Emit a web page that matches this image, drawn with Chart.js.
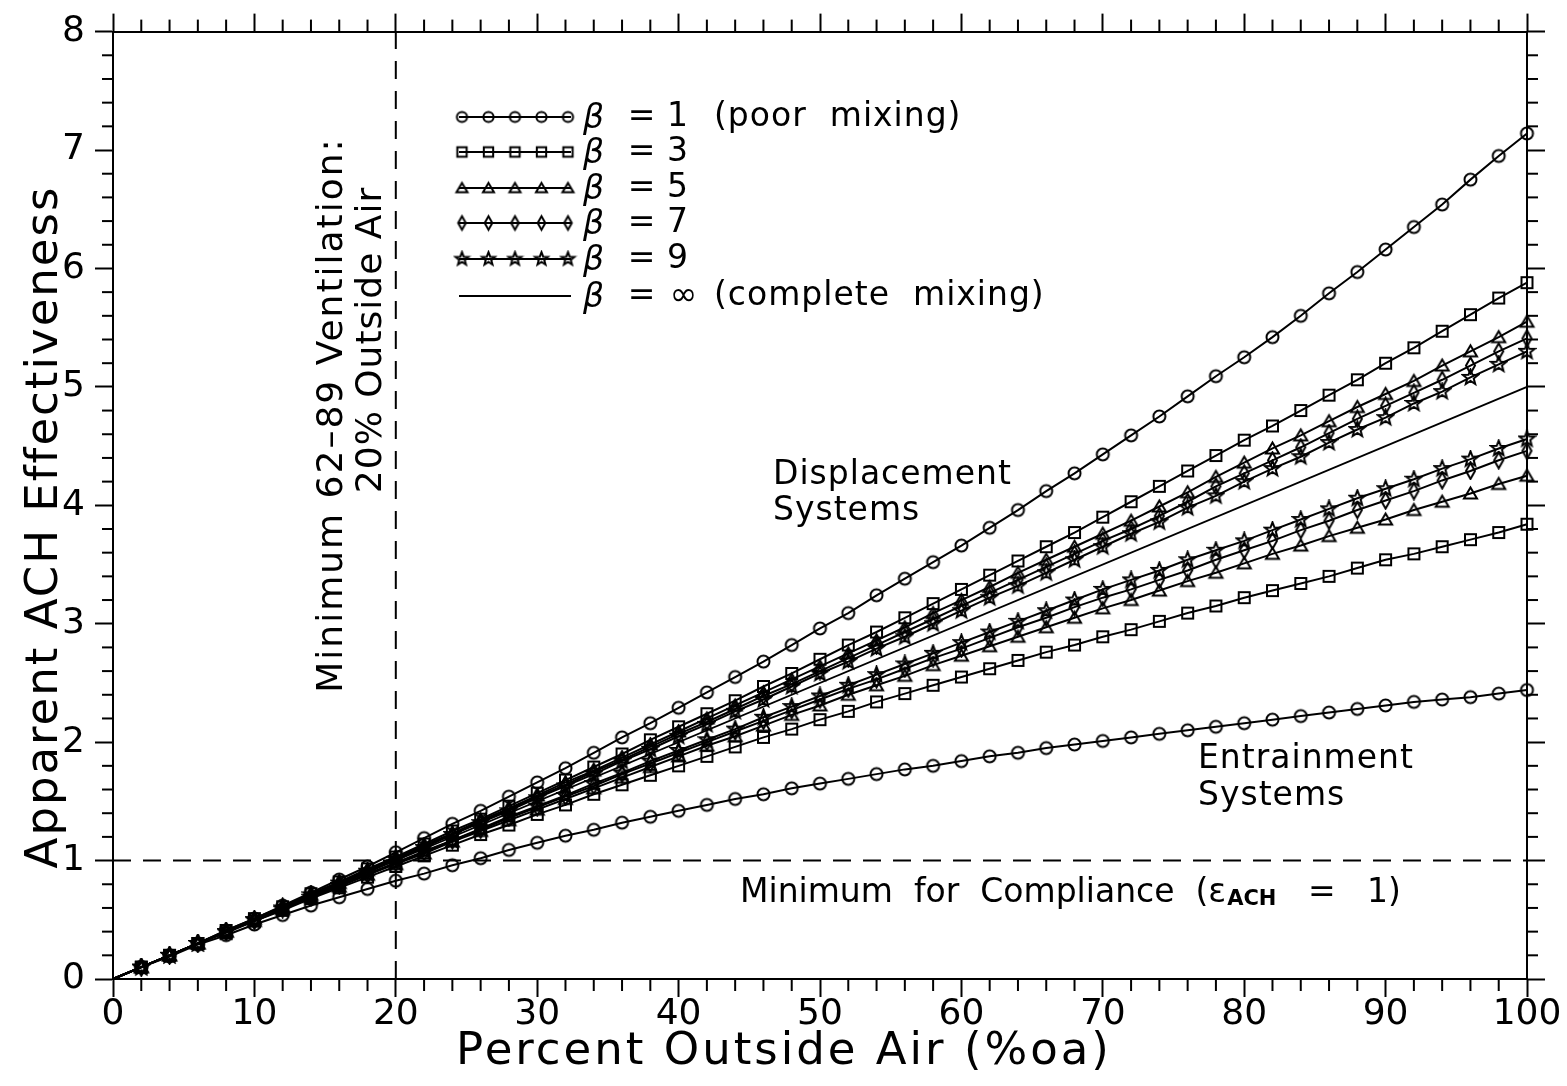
<!DOCTYPE html>
<html>
<head>
<meta charset="utf-8">
<script src="https://cdn.jsdelivr.net/npm/chart.js@4.4.1/dist/chart.umd.min.js"></script>
<style>
  html, body { margin: 0; padding: 0; background: #fff; }
  canvas { display: block; }
</style>
</head>
<body>
<canvas id="chart" width="1567" height="1086"></canvas>
<script>
// Percent outside air (x) and apparent ACH effectiveness (y) for each mixing factor
const pctOA = [0, 2, 4, 6, 8, 10, 12, 14, 16, 18, 20, 22, 24, 26, 28, 30, 32, 34, 36, 38, 40,
  42, 44, 46, 48, 50, 52, 54, 56, 58, 60, 62, 64, 66, 68, 70, 72, 74, 76, 78, 80,
  82, 84, 86, 88, 90, 92, 94, 96, 98, 100];

// Displacement systems
const dispBeta1 = [0, 0.10, 0.20, 0.30, 0.41, 0.51, 0.62, 0.73, 0.84, 0.95, 1.07,
  1.19, 1.31, 1.42, 1.54, 1.66, 1.78, 1.91, 2.04, 2.16, 2.29,
  2.42, 2.55, 2.68, 2.82, 2.96, 3.09, 3.24, 3.38, 3.52, 3.66,
  3.81, 3.96, 4.12, 4.27, 4.43, 4.59, 4.75, 4.92, 5.09, 5.25,
  5.42, 5.60, 5.79, 5.97, 6.16, 6.35, 6.54, 6.75, 6.95, 7.14];
const dispBeta3 = [0, 0.10, 0.20, 0.30, 0.41, 0.51, 0.61, 0.72, 0.82, 0.93, 1.03,
  1.14, 1.25, 1.35, 1.46, 1.57, 1.68, 1.79, 1.90, 2.02, 2.13,
  2.24, 2.35, 2.47, 2.58, 2.70, 2.82, 2.93, 3.05, 3.17, 3.29,
  3.41, 3.53, 3.65, 3.77, 3.90, 4.03, 4.16, 4.29, 4.42, 4.55,
  4.67, 4.80, 4.93, 5.06, 5.20, 5.33, 5.47, 5.61, 5.75, 5.88];
const dispBeta5 = [0, 0.10, 0.20, 0.30, 0.40, 0.51, 0.61, 0.71, 0.81, 0.92, 1.02,
  1.13, 1.23, 1.34, 1.44, 1.55, 1.66, 1.76, 1.87, 1.98, 2.09,
  2.20, 2.31, 2.42, 2.53, 2.64, 2.75, 2.86, 2.97, 3.09, 3.20,
  3.31, 3.43, 3.54, 3.65, 3.76, 3.87, 3.99, 4.11, 4.24, 4.36,
  4.48, 4.59, 4.71, 4.83, 4.94, 5.05, 5.18, 5.30, 5.42, 5.55];
const dispBeta7 = [0, 0.10, 0.20, 0.30, 0.40, 0.50, 0.61, 0.71, 0.81, 0.91, 1.02,
  1.12, 1.22, 1.33, 1.43, 1.54, 1.64, 1.75, 1.85, 1.96, 2.07,
  2.17, 2.28, 2.39, 2.49, 2.60, 2.71, 2.82, 2.93, 3.04, 3.15,
  3.26, 3.37, 3.48, 3.59, 3.70, 3.80, 3.91, 4.03, 4.16, 4.27,
  4.38, 4.49, 4.61, 4.73, 4.84, 4.95, 5.06, 5.18, 5.30, 5.41];
const dispBeta9 = [0, 0.10, 0.20, 0.30, 0.40, 0.50, 0.60, 0.71, 0.81, 0.91, 1.01,
  1.11, 1.22, 1.32, 1.42, 1.53, 1.63, 1.73, 1.84, 1.94, 2.05,
  2.15, 2.26, 2.36, 2.47, 2.58, 2.68, 2.79, 2.89, 3.00, 3.11,
  3.22, 3.32, 3.43, 3.54, 3.65, 3.76, 3.86, 3.98, 4.08, 4.20,
  4.31, 4.41, 4.53, 4.64, 4.74, 4.86, 4.96, 5.08, 5.19, 5.30];

// Complete mixing (beta = infinity)
const mixX = [0, 100];
const mixY = [0, 5.0];

// Entrainment systems
const entrBeta9 = [0, 0.10, 0.20, 0.30, 0.40, 0.50, 0.59, 0.69, 0.79, 0.89, 0.98,
  1.08, 1.17, 1.27, 1.37, 1.46, 1.55, 1.65, 1.74, 1.84, 1.93,
  2.02, 2.11, 2.21, 2.30, 2.39, 2.48, 2.57, 2.66, 2.75, 2.84,
  2.93, 3.02, 3.11, 3.20, 3.29, 3.37, 3.45, 3.54, 3.62, 3.70,
  3.79, 3.88, 3.97, 4.06, 4.14, 4.22, 4.31, 4.39, 4.48, 4.56];
const entrBeta7 = [0, 0.10, 0.20, 0.30, 0.40, 0.49, 0.59, 0.69, 0.79, 0.88, 0.98,
  1.07, 1.17, 1.26, 1.36, 1.45, 1.54, 1.63, 1.73, 1.82, 1.91,
  2.00, 2.09, 2.18, 2.27, 2.36, 2.45, 2.53, 2.62, 2.71, 2.79,
  2.88, 2.97, 3.05, 3.14, 3.22, 3.29, 3.37, 3.45, 3.54, 3.62,
  3.70, 3.79, 3.87, 3.96, 4.04, 4.12, 4.21, 4.29, 4.38, 4.46];
const entrBeta5 = [0, 0.10, 0.20, 0.30, 0.40, 0.49, 0.59, 0.69, 0.78, 0.88, 0.97,
  1.06, 1.16, 1.25, 1.34, 1.43, 1.52, 1.61, 1.70, 1.79, 1.88,
  1.97, 2.05, 2.14, 2.23, 2.31, 2.40, 2.48, 2.56, 2.65, 2.73,
  2.81, 2.89, 2.97, 3.05, 3.13, 3.20, 3.28, 3.36, 3.43, 3.51,
  3.59, 3.66, 3.74, 3.81, 3.88, 3.96, 4.03, 4.10, 4.18, 4.25];
const entrBeta3 = [0, 0.10, 0.20, 0.30, 0.39, 0.49, 0.58, 0.68, 0.77, 0.86, 0.95,
  1.04, 1.13, 1.22, 1.30, 1.39, 1.47, 1.56, 1.64, 1.72, 1.80,
  1.88, 1.96, 2.04, 2.11, 2.19, 2.26, 2.34, 2.41, 2.48, 2.55,
  2.62, 2.69, 2.76, 2.82, 2.89, 2.95, 3.02, 3.09, 3.15, 3.22,
  3.28, 3.34, 3.40, 3.47, 3.54, 3.59, 3.65, 3.71, 3.77, 3.84];
const entrBeta1 = [0, 0.10, 0.19, 0.29, 0.37, 0.46, 0.54, 0.62, 0.69, 0.76, 0.83,
  0.89, 0.96, 1.02, 1.09, 1.15, 1.21, 1.26, 1.32, 1.37, 1.42,
  1.47, 1.52, 1.56, 1.61, 1.65, 1.69, 1.73, 1.77, 1.80, 1.84,
  1.88, 1.91, 1.95, 1.98, 2.01, 2.04, 2.07, 2.10, 2.13, 2.16,
  2.19, 2.22, 2.25, 2.28, 2.31, 2.34, 2.36, 2.38, 2.41, 2.44];

// Reference lines
const minVentX = [20, 20];
const minVentY = [0, 8];
const complianceX = [0, 100];
const complianceY = [1, 1];

// Legend rows
const legendLabels = ['1', '3', '5', '7', '9', '\u221e'];
const legendNotes = ['(poor  mixing)', '', '', '', '', '(complete  mixing)'];

const FONT = '"DejaVu Sans", sans-serif';

// marker images (open shapes so the line shows through)
function makeMarker(kind, s) {
  const c = document.createElement('canvas');
  c.width = 19; c.height = 19;
  const g = c.getContext('2d');
  g.strokeStyle = '#000';
  g.lineWidth = 2;
  g.beginPath();
  const m = 9.5;
  if (kind === 'circle') {
    g.arc(m, m, 6 * s, 0, Math.PI * 2);
  } else if (kind === 'square') {
    g.rect(m - 5.5 * s, m - 5.5 * s, 11 * s, 11 * s);
  } else if (kind === 'triangle') {
    g.moveTo(m, m - 6 * s); g.lineTo(m + 6.5 * s, m + 5 * s); g.lineTo(m - 6.5 * s, m + 5 * s); g.closePath();
  } else if (kind === 'diamond') {
    g.moveTo(m, m - 8 * s); g.lineTo(m + 4.5 * s, m); g.lineTo(m, m + 8 * s); g.lineTo(m - 4.5 * s, m); g.closePath();
  } else if (kind === 'star') {
    for (let i = 0; i < 10; i++) {
      const r = (i % 2 === 0 ? 8 : 3.4) * s;
      const a = -Math.PI / 2 + i * Math.PI / 5;
      const px = m + r * Math.cos(a), py = m + r * Math.sin(a);
      if (i === 0) g.moveTo(px, py); else g.lineTo(px, py);
    }
    g.closePath();
  }
  g.stroke();
  return c;
}
const markers = {
  circle: makeMarker('circle', 1),
  square: makeMarker('square', 1),
  triangle: makeMarker('triangle', 1),
  diamond: makeMarker('diamond', 1),
  star: makeMarker('star', 1)
};
const legendMarkers = ['circle', 'square', 'triangle', 'diamond', 'star', null]
  .map(k => (k ? makeMarker(k, 0.85) : null));

function pairs(xs, ys) { return xs.map((v, i) => ({x: v, y: ys[i]})); }

function curve(values, marker) {
  return {
    data: pairs(pctOA, values),
    borderColor: '#000',
    borderWidth: 2,
    pointStyle: marker,
    pointRadius: (c) => (c.raw && c.raw.x === 0 ? 0 : 7),
    showLine: true,
    clip: false,
    tension: 0
  };
}
function refLine(xs, ys, width, dash) {
  return {
    data: pairs(xs, ys),
    borderColor: '#000',
    borderWidth: width,
    borderDash: dash || [],
    pointRadius: 0,
    showLine: true,
    clip: false
  };
}

const decorations = {
  id: 'decorations',
  afterDraw(chart) {
    const {ctx, chartArea: a, scales} = chart;
    const x = scales.x, y = scales.y;
    ctx.save();
    ctx.strokeStyle = '#000';
    ctx.fillStyle = '#000';
    ctx.lineWidth = 2;
    const seg = (x1, y1, x2, y2) => { ctx.beginPath(); ctx.moveTo(x1, y1); ctx.lineTo(x2, y2); ctx.stroke(); };
    const spacing = (v) => { if ('letterSpacing' in ctx) ctx.letterSpacing = v; };

    // minor ticks
    for (let v = 2; v < 100; v += 2) {
      if (v % 10 === 0) continue;
      const px = x.getPixelForValue(v);
      seg(px, a.bottom, px, a.bottom + 12);
      seg(px, a.top, px, a.top - 12);
    }
    for (let i = 1; i < 40; i++) {
      if (i % 5 === 0) continue;
      const py = y.getPixelForValue(i / 5);
      seg(a.left, py, a.left - 11, py);
      seg(a.right, py, a.right + 11, py);
    }

    // axis titles
    ctx.textBaseline = 'middle';
    ctx.textAlign = 'center';
    ctx.font = '45px ' + FONT;
    spacing('3px');
    ctx.fillText('Percent Outside Air (%oa)', 784, 1052);
    spacing('2px');
    ctx.save();
    ctx.translate(45, 527);
    ctx.rotate(-Math.PI / 2);
    ctx.fillText('Apparent ACH Effectiveness', 0, 0);
    ctx.restore();

    // rotated note by the 20% line
    ctx.font = '36px ' + FONT;
    spacing('2px');
    ctx.save();
    ctx.translate(333, 415);
    ctx.rotate(-Math.PI / 2);
    ctx.fillText('Minimum 62\u201389 Ventilation:', 0, 0);
    ctx.restore();
    spacing('1px');
    ctx.save();
    ctx.translate(372, 340);
    ctx.rotate(-Math.PI / 2);
    ctx.fillText('20% Outside Air', 0, 0);
    ctx.restore();

    // region labels
    spacing('1px');
    ctx.textAlign = 'left';
    ctx.font = '33px ' + FONT;
    ctx.fillText('Displacement', 773, 475);
    ctx.fillText('Systems', 773, 511);
    ctx.fillText('Entrainment', 1198, 759);
    ctx.fillText('Systems', 1198, 796);

    // compliance label with subscript
    spacing('0px');
    let cx = 740;
    const cy = 893;
    const part1 = 'Minimum  for  Compliance  (\u03b5';
    ctx.fillText(part1, cx, cy);
    cx += ctx.measureText(part1).width + 1;
    ctx.font = 'bold 21px ' + FONT;
    ctx.fillText('ACH', cx, cy + 7);
    cx += ctx.measureText('ACH').width;
    ctx.font = '33px ' + FONT;
    ctx.fillText('   =   1)', cx, cy);

    // legend
    const rowY = [117, 152, 188, 223, 259, 296];
    const sx0 = 462, sx1 = 568;
    for (let r = 0; r < rowY.length; r++) {
      const ry = rowY[r];
      ctx.lineWidth = 2;
      seg(sx0 - 3, ry, sx1 + 3, ry);
      const mk = legendMarkers[r];
      if (mk) {
        for (let k = 0; k < 5; k++) {
          const mx = sx0 + k * (sx1 - sx0) / 4;
          ctx.drawImage(mk, mx - mk.width / 2, ry - mk.height / 2);
        }
      }
      spacing('1px');
      ctx.font = 'italic 33px ' + FONT;
      ctx.textAlign = 'left';
      ctx.fillText('\u03b2', 583, ry + 2);
      ctx.font = '33px ' + FONT;
      ctx.textAlign = 'center';
      ctx.fillText('=', 642, ry);
      ctx.fillText(legendLabels[r], r === 5 ? 684 : 678, ry);
      ctx.textAlign = 'left';
      if (legendNotes[r]) ctx.fillText(legendNotes[r], 714, ry);
    }
    ctx.restore();
  }
};

const axisColor = '#000';
const tickFont = {family: FONT, size: 36};

new Chart(document.getElementById('chart'), {
  type: 'scatter',
  data: {
    datasets: [
      refLine(minVentX, minVentY, 2, [18, 12]),
      refLine(complianceX, complianceY, 2, [18, 12]),
      curve(dispBeta1, markers.circle),
      curve(dispBeta3, markers.square),
      curve(dispBeta5, markers.triangle),
      curve(dispBeta7, markers.diamond),
      curve(dispBeta9, markers.star),
      refLine(mixX, mixY, 1.8),
      curve(entrBeta9, markers.star),
      curve(entrBeta7, markers.diamond),
      curve(entrBeta5, markers.triangle),
      curve(entrBeta3, markers.square),
      curve(entrBeta1, markers.circle)
    ]
  },
  options: {
    responsive: false,
    animation: false,
    events: [],
    layout: {padding: 0},
    plugins: {legend: {display: false}, tooltip: {enabled: false}},
    scales: {
      x: {
        type: 'linear', position: 'bottom', min: 0, max: 100,
        afterFit: (s) => { s.height = 107; },
        ticks: {stepSize: 10, color: axisColor, font: tickFont, padding: -4, maxRotation: 0},
        grid: {drawOnChartArea: false, drawTicks: true, tickLength: 18, tickColor: axisColor, tickWidth: 2},
        border: {display: true, color: axisColor, width: 2}
      },
      xTop: {
        type: 'linear', position: 'top', min: 0, max: 100,
        afterFit: (s) => { s.height = 25; },
        ticks: {stepSize: 10, display: false},
        grid: {drawOnChartArea: false, drawTicks: true, tickLength: 18, tickColor: axisColor, tickWidth: 2},
        border: {display: true, color: axisColor, width: 2}
      },
      y: {
        type: 'linear', position: 'left', min: 0, max: 8,
        afterFit: (s) => { s.width = 113; },
        ticks: {stepSize: 1, color: axisColor, font: tickFont, padding: 10},
        grid: {drawOnChartArea: false, drawTicks: true, tickLength: 18, tickColor: axisColor, tickWidth: 2},
        border: {display: true, color: axisColor, width: 2}
      },
      yRight: {
        type: 'linear', position: 'right', min: 0, max: 8,
        afterFit: (s) => { s.width = 40; },
        ticks: {stepSize: 1, display: false},
        grid: {drawOnChartArea: false, drawTicks: true, tickLength: 18, tickColor: axisColor, tickWidth: 2},
        border: {display: true, color: axisColor, width: 2}
      }
    }
  },
  plugins: [decorations]
});
</script>
</body>
</html>
